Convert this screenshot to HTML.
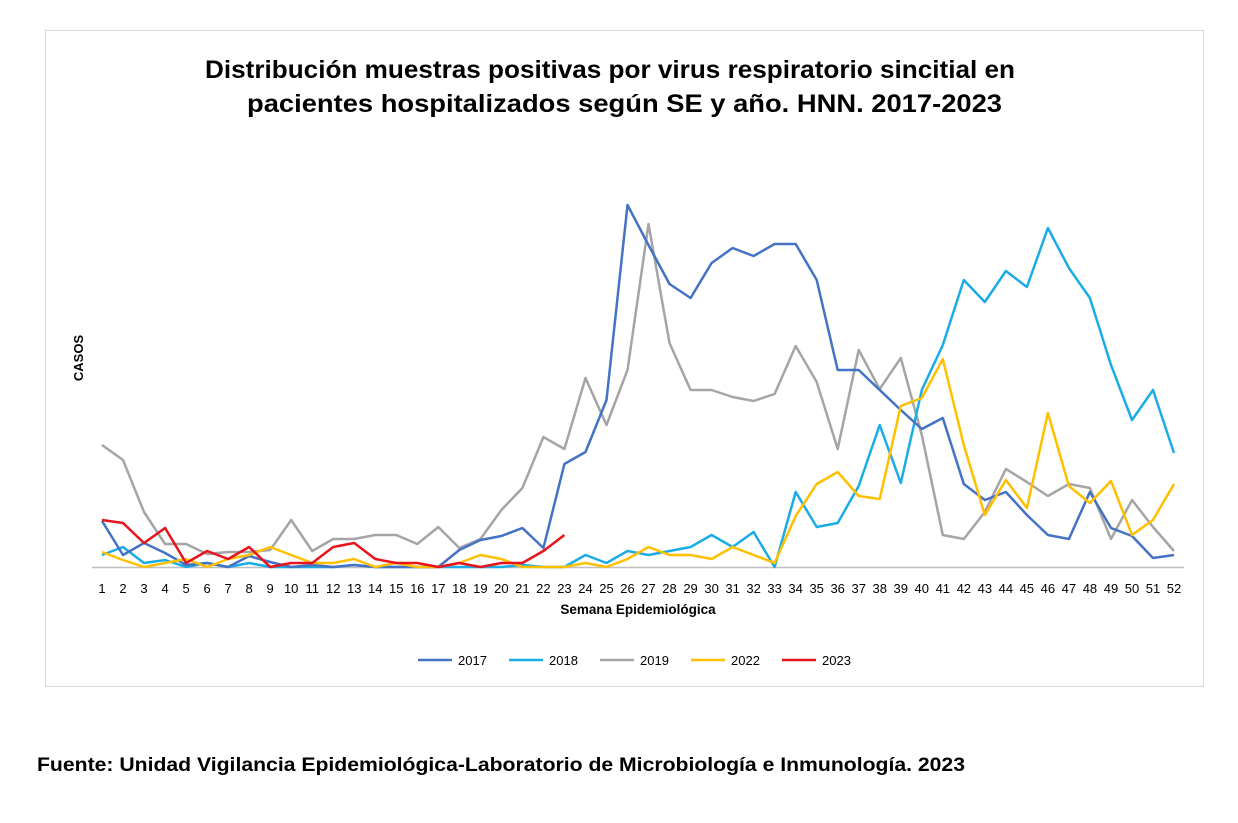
<!DOCTYPE html>
<html><head><meta charset="utf-8"><style>
body{margin:0;background:#fff;font-family:"Liberation Sans",sans-serif}
</style></head><body>
<svg width="1238" height="818" xmlns="http://www.w3.org/2000/svg" font-family="Liberation Sans, sans-serif">
<rect x="0" y="0" width="1238" height="818" fill="#fff"/>
<rect x="45.5" y="30.5" width="1158" height="656" fill="#fff" stroke="#d9d9d9"/>
<text x="205" y="78" font-size="25" font-weight="bold" fill="#000" textLength="810" lengthAdjust="spacingAndGlyphs">Distribución muestras positivas por virus respiratorio sincitial en</text>
<text x="247" y="112" font-size="25" font-weight="bold" fill="#000" textLength="755" lengthAdjust="spacingAndGlyphs">pacientes hospitalizados según SE y año.  HNN. 2017-2023</text>
<text transform="translate(83,358) rotate(-90)" text-anchor="middle" font-size="13" font-weight="bold">CASOS</text>
<line x1="92" y1="567.5" x2="1184" y2="567.5" stroke="#bfbfbf" stroke-width="1.5"/>
<g id="xl" font-size="13" fill="#000" text-anchor="middle"></g>
<text x="638" y="614" text-anchor="middle" font-size="13.5" font-weight="bold">Semana Epidemiológica</text>
<g id="series" fill="none" stroke-width="2.5" stroke-linejoin="round"></g>
<g font-size="13" fill="#000">
<line x1="418" y1="660" x2="452" y2="660" stroke="#4472C4" stroke-width="2.5"/><text x="458" y="665">2017</text>
<line x1="509" y1="660" x2="543" y2="660" stroke="#1BACE6" stroke-width="2.5"/><text x="549" y="665">2018</text>
<line x1="600" y1="660" x2="634" y2="660" stroke="#A5A5A5" stroke-width="2.5"/><text x="640" y="665">2019</text>
<line x1="691" y1="660" x2="725" y2="660" stroke="#FFC000" stroke-width="2.5"/><text x="731" y="665">2022</text>
<line x1="782" y1="660" x2="816" y2="660" stroke="#E8141B" stroke-width="2.5"/><text x="822" y="665">2023</text>
</g>
<text x="37" y="771" font-size="19" font-weight="bold" fill="#000" textLength="928" lengthAdjust="spacingAndGlyphs">Fuente: Unidad  Vigilancia  Epidemiológica-Laboratorio  de  Microbiología  e  Inmunología.  2023</text>
</svg>
<script>
var X=function(i){return 102+(i-1)*21.02;};
var xl=document.getElementById('xl'),ns="http://www.w3.org/2000/svg";
for(var i=1;i<=52;i++){var t=document.createElementNS(ns,'text');t.setAttribute('x',X(i));t.setAttribute('y',593);t.textContent=i;xl.appendChild(t);}
var S=[
["#A5A5A5",[445,460,512,544,544,554,552,552,550,520,551,539,539,535,535,544,527,548,539,510,488,437,449,378,425,370,224,343,390,390,397,401,394,346,382,449,350,389,358,435,535,539,512,469,482,496,484,488,539,500,527,551]],
["#1BACE6",[555,547,563,560,567,563,567,563,567,567,567,567,565,567,567,567,567,567,567,567,565,567,567,555,563,551,555,551,547,535,547,532,567,492,527,523,486,425,483,390,345,280,302,271,287,228,268,298,365,420,390,453]],
["#4472C4",[521,555,543,553,565,563,567,556,562,567,565,567,565,567,567,567,567,550,540,536,528,548,464,452,400,205,245,284,298,263,248,256,244,244,280,370,370,390,410,429,418,484,500,492,515,535,539,492,528,536,558,555]],
["#FFC000",[552,560,567,563,559,567,559,555,547,555,563,563,559,567,563,567,567,563,555,559,567,567,567,563,567,559,547,555,555,559,547,555,563,516,484,472,496,499,406,398,359,445,515,480,508,413,486,503,481,535,520,484]],
["#E8141B",[520,523,543,528,563,551,559,547,567,563,563,547,543,559,563,563,567,563,567,563,563,551,535]]
];
var g=document.getElementById('series');
S.forEach(function(s){var p=document.createElementNS(ns,'polyline');p.setAttribute('stroke',s[0]);p.setAttribute('points',s[1].map(function(y,i){return X(i+1).toFixed(1)+','+y;}).join(' '));g.appendChild(p);});
</script>
</body></html>
